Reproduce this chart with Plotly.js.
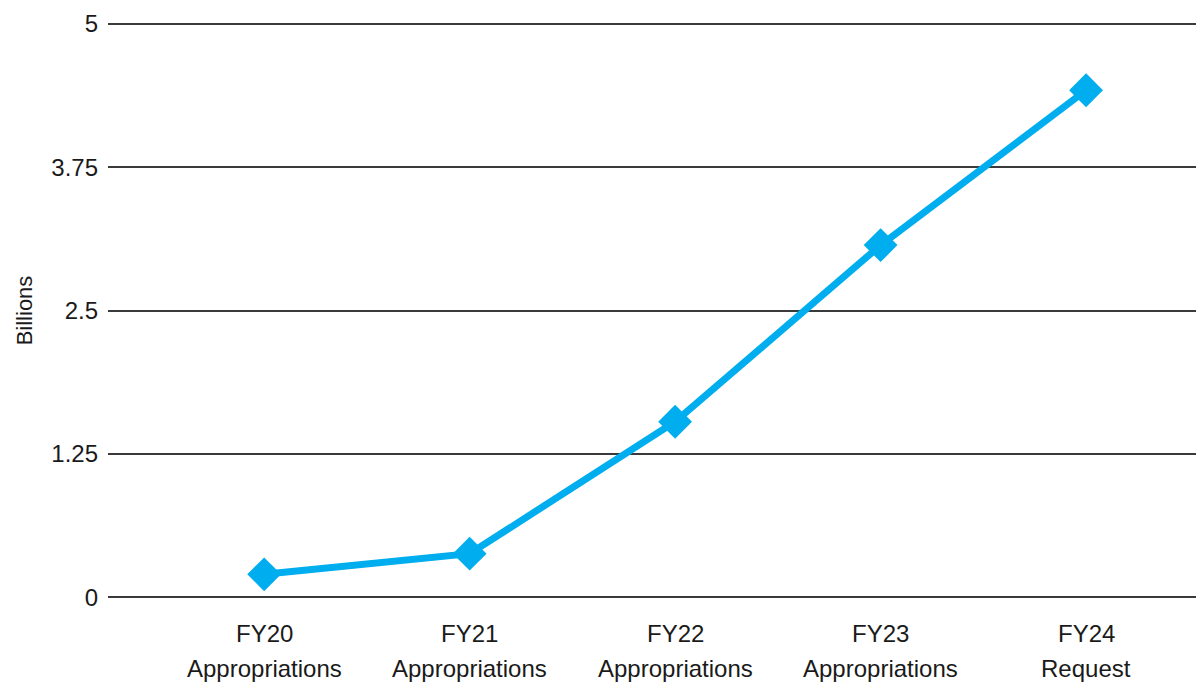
<!DOCTYPE html>
<html>
<head>
<meta charset="utf-8">
<script src="https://cdn.plot.ly/plotly-3.0.1.min.js"></script>
<style>html,body{margin:0;padding:0;background:#fff;}#chart{width:1196px;height:683px;}</style>
</head>
<body>
<div id="chart"></div>
<script>
const categories = ["FY20 Appropriations", "FY21 Appropriations", "FY22 Appropriations", "FY23 Appropriations", "FY24 Request"];
const labelLine1 = ["FY20", "FY21", "FY22", "FY23", "FY24"];
const labelLine2 = ["Appropriations", "Appropriations", "Appropriations", "Appropriations", "Request"];
const values = [0.20, 0.38, 1.53, 3.07, 4.42];
const yTickVals = [0, 1.25, 2.5, 3.75, 5];
const yTickText = ["0", "1.25", "2.5", "3.75", "5"];

const trace = {
  x: categories,
  y: values,
  type: 'scatter',
  mode: 'lines+markers',
  line: {color: '#00AEEF', width: 7},
  marker: {symbol: 'diamond', size: 26, color: '#00AEEF'},
  hoverinfo: 'x+y'
};

const labelFont = {family: 'Liberation Sans, Arial, sans-serif', size: 24, color: '#1a1a1a'};
const annotations = [];
categories.forEach((c, i) => {
  annotations.push({x: c, xref: 'x', y: -0.052, yref: 'paper', text: labelLine1[i],
    showarrow: false, xanchor: 'center', yanchor: 'middle', font: labelFont});
  annotations.push({x: c, xref: 'x', y: -0.112, yref: 'paper', text: labelLine2[i],
    showarrow: false, xanchor: 'center', yanchor: 'middle', font: labelFont});
});

const layout = {
  width: 1196, height: 683,
  margin: {l: 108, r: 0, t: 18, b: 80},
  paper_bgcolor: '#fff', plot_bgcolor: '#fff',
  showlegend: false,
  font: {family: 'Liberation Sans, Arial, sans-serif', color: '#1a1a1a'},
  xaxis: {
    type: 'category',
    range: [-0.76, 4.535],
    showgrid: false, zeroline: false, showline: false,
    ticks: '', showticklabels: false
  },
  yaxis: {
    range: [-0.05, 5.05],
    tickvals: yTickVals,
    ticktext: yTickText,
    showgrid: true, gridcolor: '#3a3a3a', gridwidth: 2,
    zeroline: false, showline: false, ticks: '',
    tickfont: {size: 24, color: '#1a1a1a'},
    ticklabelstandoff: 9,
    title: {text: 'Billions', font: {size: 22, color: '#1a1a1a'}, standoff: 12}
  },
  annotations: annotations
};

Plotly.newPlot('chart', [trace], layout, {displayModeBar: false});
</script>
</body>
</html>
